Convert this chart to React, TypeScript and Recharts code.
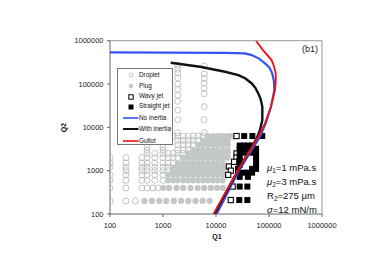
import React from 'react';
import { ScatterChart, Scatter, XAxis, YAxis, Legend, ReferenceLine } from 'recharts';

type P = [number, number];

const xTicks = [100, 1000, 10000, 100000, 1000000];
const yTicks = [100, 1000, 10000, 100000, 1000000];
const legendLabels = ['Droplet', 'Plug', 'Wavy jet', 'Straight jet', 'No inertia', 'With inertia', 'Gullot'];

const droplet: P[] = [
  [100, 200], [200, 200], [300, 200],
  [100, 400], [200, 400], [400, 400], [500, 400], [650, 400], [800, 400],
  [100, 600], [200, 600], [400, 600], [500, 600], [700, 600], [1000, 600],
  [100, 800], [200, 800], [400, 800], [500, 800], [700, 800], [1000, 800],
  [200, 1000], [400, 1000], [500, 1000], [700, 1000], [1000, 1000], [1250, 1000],
  [100, 1200], [200, 1200], [400, 1200], [500, 1200], [700, 1200], [1000, 1200], [1250, 1200],
  [100, 1500], [200, 1500], [400, 1500], [500, 1500], [700, 1500], [1000, 1500], [1250, 1500], [1550, 1500],
  [100, 2000], [200, 2000], [400, 2000], [500, 2000], [700, 2000], [1000, 2000], [1250, 2000], [1550, 2000], [1900, 2000],
  [500, 2500], [700, 2500], [1000, 2500], [1250, 2500], [1550, 2500], [1900, 2500], [2400, 2500],
  [500, 3000], [1000, 3000], [1900, 3000], [2400, 3000], [3000, 3000],
  [500, 3500], [1000, 3500], [1900, 4000], [2400, 4000], [3000, 4000], [3700, 4000],
  [1900, 5000], [2400, 5000], [3000, 5000], [3700, 5000], [4600, 5000],
  [1550, 6300], [1900, 6300], [2400, 6300], [3000, 6300], [3700, 6300], [4600, 6300], [5700, 6300],
  [1900, 7500], [6000, 7500],
  [1900, 15000], [1900, 25000], [1900, 40000], [1900, 55000], [1900, 75000], [1900, 100000],
  [1900, 140000], [1900, 180000], [1900, 220000], [1900, 270000],
  [6000, 15000], [6000, 30000], [6000, 60000], [6000, 80000], [6000, 105000], [6000, 135000],
  [6000, 170000], [6000, 260000],
];

const plug: P[] = [
  [450, 200], [620, 200], [850, 200], [1150, 200], [1600, 200], [2200, 200], [3000, 200], [4100, 200], [5600, 200], [7600, 200],
  [1000, 400], [1300, 400], [1800, 400], [2400, 400], [3300, 400], [4500, 400], [6000, 400], [8000, 400], [10500, 400], [13500, 400],
  [1250, 600], [1550, 600], [1900, 600], [2400, 600], [3000, 600], [3700, 600], [4600, 600], [5700, 600], [7000, 600], [8700, 600], [10800, 600], [13400, 600],
  [1250, 800], [1550, 800], [1900, 800], [2400, 800], [3000, 800], [3700, 800], [4600, 800], [5700, 800], [7000, 800], [8700, 800], [10800, 800], [13400, 800],
  [1550, 1000], [1900, 1000], [2400, 1000], [3000, 1000], [3700, 1000], [4600, 1000], [5700, 1000], [7000, 1000], [8700, 1000], [10800, 1000], [13400, 1000],
  [1550, 1200], [1900, 1200], [2400, 1200], [3000, 1200], [3700, 1200], [4600, 1200], [5700, 1200], [7000, 1200], [8700, 1200], [10800, 1200], [13400, 1200],
  [1900, 1500], [2400, 1500], [3000, 1500], [3700, 1500], [4600, 1500], [5700, 1500], [7000, 1500], [8700, 1500], [10800, 1500], [13400, 1500],
  [2400, 2000], [3000, 2000], [3700, 2000], [4600, 2000], [5700, 2000], [7000, 2000], [8700, 2000], [10800, 2000], [13400, 2000], [16600, 2000],
  [3000, 2500], [3700, 2500], [4600, 2500], [5700, 2500], [7000, 2500], [8700, 2500], [10800, 2500], [13400, 2500], [16600, 2500],
  [3700, 3000], [4600, 3000], [5700, 3000], [7000, 3000], [8700, 3000], [10800, 3000], [13400, 3000], [16600, 3000],
  [4600, 4000], [5700, 4000], [7000, 4000], [8700, 4000], [10800, 4000], [13400, 4000], [16600, 4000],
  [5700, 5000], [7000, 5000], [8700, 5000], [10800, 5000], [13400, 5000], [16600, 5000],
  [7000, 6300], [8700, 6300], [10800, 6300], [13400, 6300], [16600, 6300], [19500, 6300],
];

const wavyJet: P[] = [
  [24400, 6300], [24400, 2500], [24400, 2000], [22000, 1600], [17500, 1250],
  [19000, 1000], [17000, 800], [20600, 430], [19000, 210],
];

const straightJet: P[] = [
  [34000, 6300], [48600, 6300], [74500, 6300],
  [28000, 3800], [33500, 3800], [40000, 3800], [48000, 3800],
  [28000, 3200], [33500, 3200], [40000, 3200], [48000, 3200], [57000, 3200],
  [28000, 2600], [33500, 2600], [48000, 2600], [57000, 2600],
  [28000, 2100], [57000, 2100],
  [28000, 1700], [57000, 1700],
  [28000, 1350], [57000, 1350],
  [26000, 1100], [48000, 1100], [57000, 1100],
  [26000, 900], [33500, 900], [40000, 900], [48000, 900],
  [28000, 720], [40000, 720],
  [28000, 430], [39000, 430],
  [27500, 210], [39000, 210],
];

const noInertia: P[] = [
  [100, 537000], [14800, 526000], [35200, 509000], [47200, 466000], [64700, 386000],
  [84100, 299000], [102000, 239000], [115000, 176000], [124000, 117000], [126000, 72400],
  [109000, 29900], [86700, 12400], [67600, 6070], [26400, 946], [10300, 100],
];

const withInertia: P[] = [
  [1400, 309000], [4990, 250000], [14800, 192000], [26400, 161000], [36100, 134000],
  [47200, 103000], [55600, 80700], [62800, 60800], [70000, 43700], [74800, 29900],
  [74800, 14700], [67600, 8670], [58600, 5570], [24900, 931], [9370, 100],
];

const gullot: P[] = [
  [56900, 1000000], [77100, 607000], [112000, 357000], [124000, 259000], [134000, 176000],
  [134000, 111000], [130000, 72400], [109000, 29900], [84100, 12400], [62800, 6070],
  [24900, 946], [8980, 100],
];

const toPts = (a: P[]) => a.map(([q1, q2]) => ({ q1, q2 }));

const FONT = "'Liberation Sans', Arial, Helvetica, sans-serif";
const BLUE = '#3553f5';
const RED = '#f01010';
const BLACK = '#111111';
const GREY_LINE = '#b5bab8';
const GREY_FILL = '#c3c8c6';

const OpenCircle = (p: any) => (
  <circle cx={p.cx} cy={p.cy} r={3} fill="none" stroke={GREY_LINE} strokeWidth={0.85} />
);
const FilledCircle = (p: any) => <circle cx={p.cx} cy={p.cy} r={3.1} fill={GREY_FILL} />;
const OpenSquare = (p: any) => (
  <rect x={p.cx - 2.6} y={p.cy - 2.6} width={5.2} height={5.2} fill="#fff" stroke="#000" strokeWidth={1.1} />
);
const FilledSquare = (p: any) => <rect x={p.cx - 3} y={p.cy - 3} width={6} height={6} fill="#000" />;
const NoShape = () => <g />;

const rowTops = [6, 17, 27.5, 37.7, 49.3, 60.3, 72];

const LegendBox = () => {
  const icon = (i: number) => {
    const c = 13;
    if (i === 0) return <circle cx={c} cy={4} r={2} fill="none" stroke={GREY_LINE} strokeWidth={0.8} />;
    if (i === 1) return <circle cx={c} cy={4} r={2.2} fill={GREY_FILL} />;
    if (i === 2) return <rect x={c - 2.2} y={1.8} width={4.4} height={4.4} fill="#fff" stroke="#000" strokeWidth={1} />;
    if (i === 3) return <rect x={c - 2.5} y={1.5} width={5} height={5} fill="#000" />;
    const col = i === 4 ? BLUE : i === 5 ? BLACK : RED;
    return <line x1={5} x2={20.5} y1={4} y2={4} stroke={col} strokeWidth={i === 5 ? 2 : 1.6} />;
  };
  return (
    <div style={{ position: 'relative', width: 56, height: 77, border: '0.8px solid #777', boxSizing: 'border-box', background: '#fff', fontFamily: FONT }}>
      {legendLabels.map((lab, i) => (
        <div key={lab} style={{ position: 'absolute', left: 0, top: rowTops[i] - 4.5, height: 8, width: 56 }}>
          <svg width={22} height={8} style={{ position: 'absolute', left: 0, top: 0.5 }}>{icon(i)}</svg>
          <span style={{ position: 'absolute', left: 21, top: 0, fontSize: 6.4, lineHeight: '8px', color: '#111', whiteSpace: 'nowrap' }}>{lab}</span>
        </div>
      ))}
    </div>
  );
};

const sub = (t: string) => (
  <span style={{ fontSize: 6.5, position: 'relative', top: 2 }}>{t}</span>
);

export default function App() {
  const axisTick = { fontSize: 7.5, fill: '#222', fontFamily: FONT };
  return (
    <div style={{ position: 'relative', width: 384, height: 270, fontFamily: FONT }}>
      <ScatterChart width={384} height={270} margin={{ top: 32.7, right: 70, bottom: 34, left: 42 }}>
        <XAxis
          type="number"
          dataKey="q1"
          scale="log"
          domain={[100, 1000000]}
          ticks={xTicks}
          allowDataOverflow
          height={30}
          tickSize={3}
          tickMargin={6}
          stroke="#666"
          tick={axisTick}
          tickFormatter={(v: number) => String(v)}
        />
        <YAxis
          type="number"
          dataKey="q2"
          scale="log"
          domain={[100, 1000000]}
          ticks={yTicks}
          allowDataOverflow
          width={60}
          tickSize={3}
          tickMargin={3.5}
          stroke="#666"
          tick={axisTick}
          tickFormatter={(v: number) => String(v)}
        />
        <ReferenceLine y={1000000} stroke="#999" strokeWidth={1} ifOverflow="visible" />
        <ReferenceLine x={1000000} stroke="#999" strokeWidth={1} ifOverflow="visible" />
        <Scatter data={toPts(droplet)} shape={OpenCircle} isAnimationActive={false} />
        <Scatter data={toPts(plug)} shape={FilledCircle} isAnimationActive={false} />
        <Scatter data={toPts(wavyJet)} shape={OpenSquare} isAnimationActive={false} />
        <Scatter data={toPts(straightJet)} shape={FilledSquare} isAnimationActive={false} />
        <Scatter data={toPts(noInertia)} shape={NoShape} line={{ stroke: BLUE, strokeWidth: 2.2 }} lineJointType="linear" isAnimationActive={false} />
        <Scatter data={toPts(withInertia)} shape={NoShape} line={{ stroke: BLACK, strokeWidth: 2.4 }} lineJointType="linear" isAnimationActive={false} />
        <Scatter data={toPts(gullot)} shape={NoShape} line={{ stroke: RED, strokeWidth: 1.8 }} lineJointType="linear" isAnimationActive={false} />
        <Legend
          layout="vertical"
          align="center"
          verticalAlign="middle"
          content={() => <LegendBox />}
          wrapperStyle={{ position: 'absolute', left: 109, top: 60, width: 56, height: 77 }}
        />
      </ScatterChart>
      <div style={{ position: 'absolute', left: 202, top: 225, width: 14, textAlign: 'center', fontSize: 7, fontWeight: 'bold', color: '#111' }}>Q1</div>
      <div style={{ position: 'absolute', left: 48, top: 116, width: 14, textAlign: 'center', fontSize: 7, fontWeight: 'bold', color: '#111', transform: 'rotate(-90deg)' }}>Q2</div>
      <div style={{ position: 'absolute', left: 294, top: 36, fontSize: 9, color: '#222' }}>(b1)</div>
      <div style={{ position: 'absolute', left: 259, top: 153, fontSize: 9.5, lineHeight: '13px', color: '#111', whiteSpace: 'nowrap' }}>
        <div><i>μ</i>{sub('1')}=1 mPa.s</div>
        <div><i>μ</i>{sub('2')}=3 mPa.s</div>
        <div>R{sub('2')}=275 μm</div>
        <div><i>σ</i>=12 mN/m</div>
      </div>
    </div>
  );
}
